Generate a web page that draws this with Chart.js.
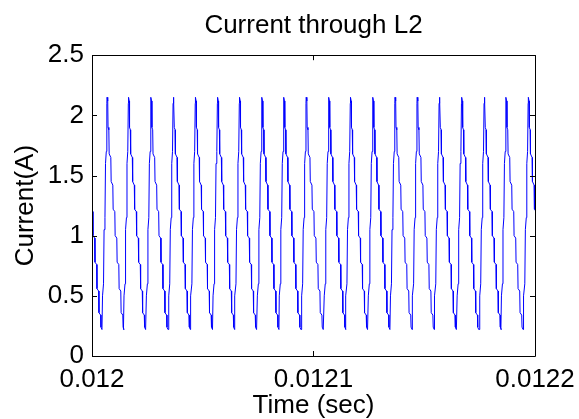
<!DOCTYPE html>
<html>
<head>
<meta charset="utf-8">
<script src="https://cdn.jsdelivr.net/npm/chart.js@4.4.1/dist/chart.umd.min.js"></script>
<style>
  html, body { margin: 0; padding: 0; background: #fff; }
  canvas { display: block; }
</style>
</head>
<body>
<canvas id="myChart" width="579" height="419"></canvas>
<script>
let myChart = document.getElementById('myChart').getContext('2d');

//Data
const t0 = 0.012; //sec, left edge of the plot
//time of each current peak, microseconds after t0 (first one is just before the left edge)
const peakTimes = [-3.2, 6.8, 16.5, 26.6, 36.7, 46.7, 56.7, 66.6, 76.7, 86.6, 96.7,
  106.9, 116.7, 126.8, 136.8, 146.8, 156.8, 166.9, 177.1, 186.9, 197.0];
//shape of one switching cycle: time from the peak (us) and current (A)
const cycleOffsets = [-2.3, -2.05, -1.6, -1.35, -0.95, -0.7, -0.35, -0.1, 0,
  0.3, 0.45, 0.8, 0.95, 1.7, 1.85, 2.6, 2.75, 3.5, 3.65, 4.4, 4.55, 5.3, 5.45, 6.2, 6.35, 7.1, 7.25, 7.7];
const cycleValues = [0.22, 0.5, 0.6, 1.05, 1.15, 1.6, 1.7, 2.1, 2.15,
  2.12, 1.9, 1.88, 1.68, 1.65, 1.45, 1.42, 1.22, 1.2, 1.0, 0.98, 0.78, 0.76, 0.56, 0.54, 0.36, 0.34, 0.24, 0.22];
const xTicks = [0.012, 0.0121, 0.0122];
const xTickLabels = ['0.012', '0.0121', '0.0122'];
const yTicks = [0, 0.5, 1, 1.5, 2, 2.5];
const yTickLabels = ['0', '0.5', '1', '1.5', '2', '2.5'];

//Build the series
const points = [];
peakTimes.forEach(p => {
  cycleOffsets.forEach((o, i) => {
    points.push({x: t0 + (p + o) * 1e-6, y: cycleValues[i]});
  });
});

const fontFamily = "'Liberation Sans', Arial, Helvetica, sans-serif";

//Box round the plot with inward ticks on all four sides, MATLAB style
const boxTicks = {
  id: 'boxTicks',
  afterDraw(chart) {
    const ctx = chart.ctx;
    const a = chart.chartArea;
    const xs = chart.scales.x, ys = chart.scales.y;
    ctx.save();
    ctx.strokeStyle = '#000';
    ctx.lineWidth = 1;
    ctx.beginPath();
    ctx.rect(Math.round(a.left) + 0.5, Math.round(a.top) + 0.5,
      Math.round(a.right - a.left), Math.round(a.bottom - a.top));
    xTicks.forEach(v => {
      const px = Math.round(xs.getPixelForValue(v)) + 0.5;
      ctx.moveTo(px, a.bottom); ctx.lineTo(px, a.bottom - 5);
      ctx.moveTo(px, a.top); ctx.lineTo(px, a.top + 5);
    });
    yTicks.forEach(v => {
      const py = Math.round(ys.getPixelForValue(v)) + 0.5;
      ctx.moveTo(a.left, py); ctx.lineTo(a.left + 5, py);
      ctx.moveTo(a.right, py); ctx.lineTo(a.right - 5, py);
    });
    ctx.stroke();
    ctx.restore();
  }
};

const whiteBg = {
  id: 'whiteBg',
  beforeDraw(chart) {
    const ctx = chart.ctx;
    ctx.save();
    ctx.fillStyle = '#fff';
    ctx.fillRect(0, 0, chart.width, chart.height);
    ctx.restore();
  }
};

let currentChart = new Chart(myChart, {
  type: 'line',
  data: {
    datasets: [{
      label: 'Current',
      data: points,
      borderColor: '#0000ff',
      borderWidth: 1,
      pointRadius: 0,
      tension: 0,
      fill: false
    }]
  },
  options: {
    responsive: false,
    animation: false,
    layout: { padding: { left: 0, right: 44, top: 0, bottom: 0 } },
    plugins: {
      legend: { display: false },
      tooltip: { enabled: false },
      title: {
        display: true,
        fullSize: false,
        text: 'Current through L2',
        color: '#000',
        font: { family: fontFamily, size: 26, weight: 'normal' },
        padding: { top: 10, bottom: 14 }
      }
    },
    scales: {
      x: {
        type: 'linear',
        min: 0.012,
        max: 0.0122,
        grid: { display: false, drawTicks: false },
        border: { display: false },
        afterBuildTicks: scale => { scale.ticks = xTicks.map(v => ({value: v})); },
        afterFit: scale => { scale.height = 63; scale.paddingLeft = 0; scale.paddingRight = 0; },
        ticks: {
          color: '#000',
          padding: 8,
          maxRotation: 0,
          autoSkip: false,
          font: { family: fontFamily, size: 26 },
          callback: (v, i) => xTickLabels[i]
        },
        title: {
          display: true,
          text: 'Time (sec)',
          color: '#000',
          font: { family: fontFamily, size: 26 },
          padding: { top: 0, bottom: -2 }
        }
      },
      y: {
        min: 0,
        max: 2.5,
        grid: { display: false, drawTicks: false },
        border: { display: false },
        afterBuildTicks: scale => { scale.ticks = yTicks.map(v => ({value: v})); },
        afterFit: scale => { scale.width = 92; },
        ticks: {
          color: '#000',
          padding: 8,
          font: { family: fontFamily, size: 26 },
          callback: (v, i) => yTickLabels[i]
        },
        title: {
          display: true,
          text: 'Current(A)',
          color: '#000',
          font: { family: fontFamily, size: 26 },
          padding: { top: 10, bottom: 0 }
        }
      }
    }
  },
  plugins: [whiteBg, boxTicks]
});
</script>
</body>
</html>
